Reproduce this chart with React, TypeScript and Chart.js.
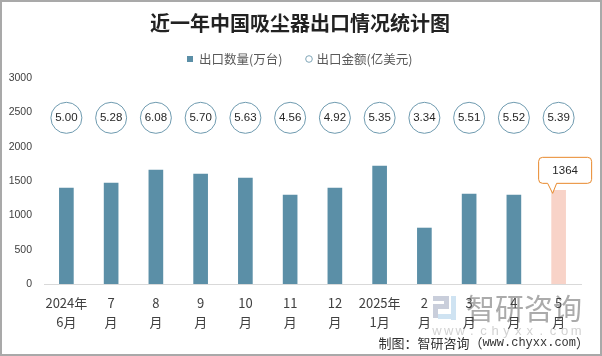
import React, { useEffect, useRef } from "react";
import { Chart, registerables } from "chart.js";

Chart.register(...registerables);

const TITLE = "近一年中国吸尘器出口情况统计图";
const CATEGORIES: string[][] = [
  ["2024年", "6月"], ["7", "月"], ["8", "月"], ["9", "月"], ["10", "月"], ["11", "月"],
  ["12", "月"], ["2025年", "1月"], ["2", "月"], ["3", "月"], ["4", "月"], ["5", "月"],
];
const QUANTITY_LABEL = "出口数量(万台)";
const AMOUNT_LABEL = "出口金额(亿美元)";
const QUANTITY = [1398, 1471, 1660, 1602, 1544, 1296, 1398, 1718, 815, 1311, 1296, 1364];
const AMOUNT = [5.0, 5.28, 6.08, 5.7, 5.63, 4.56, 4.92, 5.35, 3.34, 5.51, 5.52, 5.39];
const Y_MIN = 0;
const Y_MAX = 3000;
const Y_STEP = 500;
const AMOUNT_ROW = 2420; // row (on quantity axis) where amount bubbles sit
const HIGHLIGHT_INDEX = 11;
const CREDIT = ["制图：智研咨询（", "www.chyxx.com", "）"];

const BLUE = "#5b8fa7";
const PINK = "#f8d3c8";
const CJK = "'Noto Sans CJK SC', 'Liberation Sans', sans-serif";

const decorPlugin = {
  id: "decor",
  beforeDraw(chart: any) {
    const ctx = chart.ctx as CanvasRenderingContext2D;
    const W = chart.width, H = chart.height;
    ctx.save();
    ctx.fillStyle = "#ffffff";
    ctx.fillRect(0, 0, W, H);
    ctx.strokeStyle = "#a9a9a9";
    ctx.lineWidth = 2;
    ctx.strokeRect(1, 1, W - 2, H - 2);
    // watermark
    ctx.fillStyle = "#c9cedb";
    ctx.fillRect(433, 296, 16, 5);
    ctx.fillRect(444, 296, 5, 12);
    ctx.fillRect(433, 304, 16, 5);
    ctx.fillRect(433, 304, 5, 14);
    ctx.fillStyle = "#cfe3f2";
    ctx.fillRect(451, 296, 5, 24);
    ctx.fillRect(438, 314, 18, 5);
    ctx.fillStyle = "rgba(150,150,150,0.8)";
    ctx.font = `29px ${CJK}`;
    ctx.textAlign = "left";
    ctx.textBaseline = "middle";
    ctx.fillText("智研咨询", 466, 309);
    ctx.fillStyle = "#d2d2d2";
    ctx.font = "13px 'Liberation Sans', sans-serif";
    ctx.textAlign = "center";
    const wm = "www.chyxx.com";
    for (let i = 0; i < wm.length; i++) {
      ctx.fillText(wm[i], 437 + i * 11.6, 331);
    }
    ctx.restore();
  },
  afterDatasetsDraw(chart: any) {
    const ctx = chart.ctx as CanvasRenderingContext2D;
    const barMeta = chart.getDatasetMeta(0);
    const yScale = chart.scales.y;
    const rowY = yScale.getPixelForValue(AMOUNT_ROW);
    ctx.save();
    // amount bubbles
    const amounts = chart.data.datasets[1].data as number[];
    barMeta.data.forEach((bar: any, i: number) => {
      ctx.beginPath();
      ctx.arc(bar.x, rowY, 15.5, 0, Math.PI * 2);
      ctx.fillStyle = "#ffffff";
      ctx.fill();
      ctx.strokeStyle = "#6f9bb0";
      ctx.lineWidth = 1;
      ctx.stroke();
      ctx.fillStyle = "#262626";
      ctx.font = "11.5px 'Liberation Sans', sans-serif";
      ctx.textAlign = "center";
      ctx.textBaseline = "middle";
      ctx.fillText(amounts[i].toFixed(2), bar.x, rowY + 0.5);
    });
    // callout on highlighted bar
    const hb = barMeta.data[HIGHLIGHT_INDEX];
    if (hb) {
      const tipX = hb.x - 6, tipY = hb.y + 3;
      const left = hb.x - 20, right = hb.x + 33;
      const bottom = hb.y - 7, top = hb.y - 33;
      const r = 4;
      ctx.beginPath();
      ctx.moveTo(left + r, top);
      ctx.lineTo(right - r, top);
      ctx.quadraticCurveTo(right, top, right, top + r);
      ctx.lineTo(right, bottom - r);
      ctx.quadraticCurveTo(right, bottom, right - r, bottom);
      ctx.lineTo(tipX + 4, bottom);
      ctx.lineTo(tipX, tipY);
      ctx.lineTo(tipX - 5, bottom);
      ctx.lineTo(left + r, bottom);
      ctx.quadraticCurveTo(left, bottom, left, bottom - r);
      ctx.lineTo(left, top + r);
      ctx.quadraticCurveTo(left, top, left + r, top);
      ctx.closePath();
      ctx.fillStyle = "#ffffff";
      ctx.fill();
      ctx.strokeStyle = "#e8892c";
      ctx.lineWidth = 1;
      ctx.stroke();
      ctx.fillStyle = "#262626";
      ctx.font = "11.5px 'Liberation Sans', sans-serif";
      ctx.textAlign = "center";
      ctx.textBaseline = "middle";
      const v = (chart.data.datasets[0].data as number[])[HIGHLIGHT_INDEX];
      ctx.fillText(String(v), (left + right) / 2, (top + bottom) / 2 + 0.5);
    }
    ctx.restore();
  },
  afterDraw(chart: any) {
    const ctx = chart.ctx as CanvasRenderingContext2D;
    ctx.save();
    // title
    ctx.fillStyle = "#222222";
    ctx.font = `bold 20px ${CJK}`;
    ctx.textAlign = "center";
    ctx.textBaseline = "middle";
    ctx.fillText(TITLE, 300, 23);
    // legend
    ctx.fillStyle = BLUE;
    ctx.fillRect(187, 56, 6, 6);
    ctx.fillStyle = "#595959";
    ctx.font = `12.5px ${CJK}`;
    ctx.textAlign = "left";
    ctx.fillText(chart.data.datasets[0].label, 199, 59);
    ctx.beginPath();
    ctx.arc(309, 59, 3.3, 0, Math.PI * 2);
    ctx.strokeStyle = "#7fa6b8";
    ctx.lineWidth = 1;
    ctx.stroke();
    ctx.fillText(chart.data.datasets[1].label, 316.5, 59);
    // credit
    ctx.fillStyle = "#333333";
    const fonts = [`13px ${CJK}`, "12px 'Liberation Mono', monospace", `13px ${CJK}`];
    const widths = CREDIT.map((t, i) => {
      ctx.font = fonts[i];
      return ctx.measureText(t).width;
    });
    let x = 589 - widths.reduce((a, b) => a + b, 0);
    CREDIT.forEach((t, i) => {
      ctx.font = fonts[i];
      ctx.fillText(t, x, 343);
      x += widths[i];
    });
    ctx.restore();
  },
};

export default function App() {
  const ref = useRef<HTMLCanvasElement | null>(null);
  useEffect(() => {
    if (!ref.current) return;
    const chart = new Chart(ref.current, {
      type: "bar",
      data: {
        labels: CATEGORIES,
        datasets: [
          {
            type: "bar",
            label: QUANTITY_LABEL,
            data: QUANTITY,
            backgroundColor: QUANTITY.map((_, i) => (i === HIGHLIGHT_INDEX ? PINK : BLUE)),
            barThickness: 14,
            yAxisID: "y",
          } as any,
          {
            type: "line",
            label: AMOUNT_LABEL,
            data: AMOUNT,
            showLine: false,
            pointRadius: 0,
            pointHoverRadius: 0,
            yAxisID: "y1",
          } as any,
        ],
      },
      options: {
        responsive: false,
        animation: false,
        events: [],
        layout: { padding: { top: 78, right: 21, left: 0, bottom: 0 } },
        plugins: {
          legend: { display: false },
          title: { display: false },
          tooltip: { enabled: false },
        },
        scales: {
          x: {
            grid: { display: false, drawTicks: false },
            border: { display: true, color: "#d9d9d9", width: 1 },
            ticks: {
              autoSkip: false,
              maxRotation: 0,
              minRotation: 0,
              padding: 10,
              color: "#404040",
              font: { size: 13, family: CJK, lineHeight: 1.45 },
            },
            afterFit: (s: any) => {
              s.height = 72;
            },
          },
          y: {
            min: Y_MIN,
            max: Y_MAX,
            grid: { display: false, drawTicks: false },
            border: { display: false },
            ticks: {
              stepSize: Y_STEP,
              padding: 12,
              color: "#404040",
              font: { size: 10.5, family: "'Liberation Sans', sans-serif" },
              callback: (v: any) => String(v),
            },
            afterFit: (s: any) => {
              s.width = 44;
            },
          },
          y1: {
            display: false,
            min: 0,
            max: 10,
          },
        },
      },
      plugins: [decorPlugin],
    });
    return () => chart.destroy();
  }, []);
  return (
    <div style={{ position: "absolute", left: 0, top: 0, width: 602, height: 356 }}>
      <canvas ref={ref} width={602} height={356} style={{ display: "block", width: 602, height: 356 }} />
    </div>
  );
}
